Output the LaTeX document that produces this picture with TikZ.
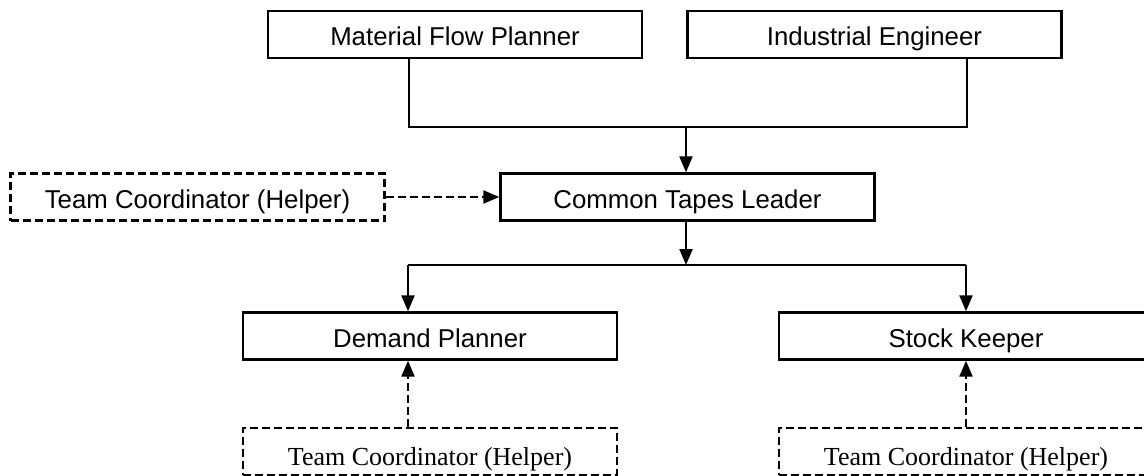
\documentclass[tikz,border=0pt]{standalone}
\usepackage{fontspec}
\setmainfont{Liberation Serif}
\setsansfont{Liberation Sans}
\usetikzlibrary{arrows.meta}
\begin{document}
\begin{tikzpicture}[x=1pt,y=-1pt,
  box/.style={draw, line width=2.4pt, minimum width=374pt, minimum height=47pt,
    inner sep=0pt, text height=22pt, text depth=0pt,
    font=\sffamily\fontsize{25.8}{30}\selectfont},
  helperbox/.style={box, line width=2.2pt, dash pattern=on 8pt off 4pt},
  serifhelper/.style={helperbox, text height=27pt,
    font=\rmfamily\fontsize{26}{30}\selectfont},
  link/.style={line width=2.2pt},
  arr/.style={link, -{Triangle[length=16pt,width=13pt]}},
  dasharr/.style={arr, dash pattern=on 8pt off 4pt}]
\useasboundingbox (0,0) rectangle (1144,476);
\clip (0,0) rectangle (1144,476);

% top level
\node[box] (mfp) at (455,34.5) {Material Flow Planner};
\node[box] (ie)  at (874.5,34.5) {Industrial Engineer};

% middle level
\node[box] (ctl) at (687.5,197) {Common Tapes Leader};
\node[helperbox] (tc) at (197.5,197) {Team Coordinator (Helper)};

% lower level
\node[box] (dp) at (430,336) {Demand Planner};
\node[box] (sk) at (966,336) {Stock Keeper};
\node[serifhelper] (dph) at (430,451.5) {Team Coordinator (Helper)};
\node[serifhelper] (skh) at (966,451.5) {Team Coordinator (Helper)};

% junction points
\coordinate (jL) at (409,127);
\coordinate (jR) at (967,127);
\coordinate (jM) at (686,127);
\coordinate (bL) at (408,265);
\coordinate (bR) at (966,265);
\coordinate (bM) at (686,265);

% connectors
\draw[link] (mfp.south -| jL) -- (jL) -- (jR) -- (ie.south -| jR);
\draw[arr] (jM) -- (jM |- ctl.north);
\draw[dasharr] (tc.east) -- (ctl.west);
\draw[arr] (ctl.south -| bM) -- (bM);
\draw[link] (bL) -- (bR);
\draw[arr] (bL) -- (bL |- dp.north);
\draw[arr] (bR) -- (bR |- sk.north);
\draw[dasharr] (dph.north -| bL) -- (bL |- dp.south);
\draw[dasharr] (skh.north -| bR) -- (bR |- sk.south);
\end{tikzpicture}
\end{document}
